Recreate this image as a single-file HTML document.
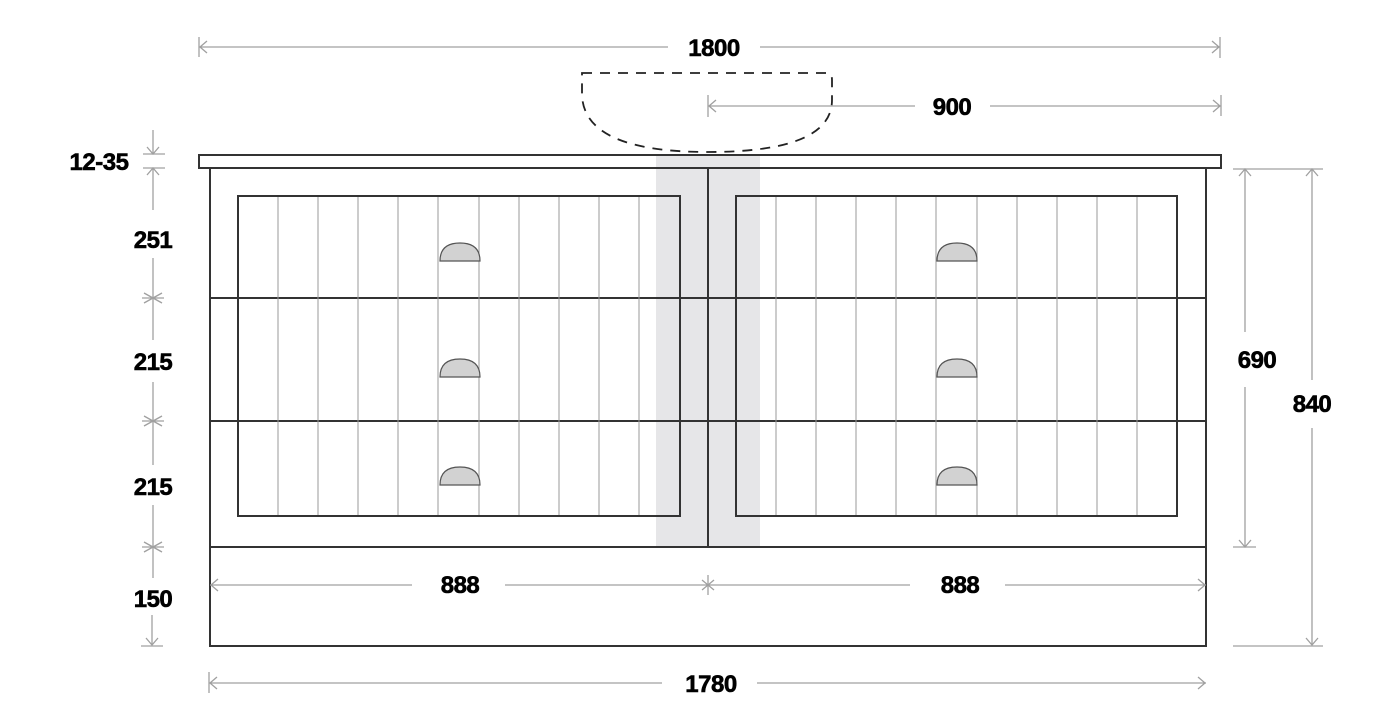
<!DOCTYPE html>
<html><head><meta charset="utf-8"><style>
html,body{margin:0;padding:0;background:#fff;width:1382px;height:706px;overflow:hidden}
svg{display:block}
text{font-family:"Liberation Sans",sans-serif;font-weight:900;font-size:24px;fill:#000;text-anchor:middle;stroke:#000;stroke-width:0.6;letter-spacing:-0.5px}
.d{stroke:#a0a0a0;stroke-width:1.3;fill:none}
.k{stroke:#333;stroke-width:2;fill:none}
.v{stroke:#999;stroke-width:1;}
</style></head><body>
<svg width="1382" height="706" viewBox="0 0 1382 706" xmlns="http://www.w3.org/2000/svg">
<rect x="656" y="154" width="104" height="393" fill="#e6e6e8"/>
<path d="M582 73 L827 73 Q832 73 832 80 L832 100 Q832 152 708 152 Q584 152 582 95 Z" fill="none" stroke="#222" stroke-width="1.8" stroke-dasharray="10,8"/>
<rect x="199" y="155" width="1022" height="13" fill="#fff" class="k"/>
<rect x="656" y="156" width="104" height="11" fill="#e6e6e8" opacity="0.6"/>
<rect x="210" y="168" width="996" height="478" class="k"/>
<line x1="210" y1="298" x2="1206" y2="298" class="k"/>
<line x1="210" y1="421" x2="1206" y2="421" class="k"/>
<line x1="210" y1="547" x2="1206" y2="547" class="k"/>
<line x1="708" y1="168" x2="708" y2="547" class="k"/>
<g class="v">
<line x1="278" y1="196" x2="278" y2="516"/><line x1="318" y1="196" x2="318" y2="516"/><line x1="358" y1="196" x2="358" y2="516"/><line x1="398" y1="196" x2="398" y2="516"/><line x1="438" y1="196" x2="438" y2="516"/><line x1="479" y1="196" x2="479" y2="516"/><line x1="519" y1="196" x2="519" y2="516"/><line x1="559" y1="196" x2="559" y2="516"/><line x1="599" y1="196" x2="599" y2="516"/><line x1="639" y1="196" x2="639" y2="516"/>
<line x1="776" y1="196" x2="776" y2="516"/><line x1="816" y1="196" x2="816" y2="516"/><line x1="856" y1="196" x2="856" y2="516"/><line x1="896" y1="196" x2="896" y2="516"/><line x1="936" y1="196" x2="936" y2="516"/><line x1="977" y1="196" x2="977" y2="516"/><line x1="1017" y1="196" x2="1017" y2="516"/><line x1="1057" y1="196" x2="1057" y2="516"/><line x1="1097" y1="196" x2="1097" y2="516"/><line x1="1137" y1="196" x2="1137" y2="516"/>
</g>
<rect x="238" y="196" width="442" height="320" class="k" stroke-width="1.8"/>
<rect x="736" y="196" width="441" height="320" class="k" stroke-width="1.8"/>
<g fill="#d2d2d2" stroke="#555" stroke-width="1.2">
<path d="M440 261 Q440 243 460 243 Q480 243 480 261 Z"/>
<path d="M440 377 Q440 359 460 359 Q480 359 480 377 Z"/>
<path d="M440 485 Q440 467 460 467 Q480 467 480 485 Z"/>
<path d="M937 261 Q937 243 957 243 Q977 243 977 261 Z"/>
<path d="M937 377 Q937 359 957 359 Q977 359 977 377 Z"/>
<path d="M937 485 Q937 467 957 467 Q977 467 977 485 Z"/>
</g>
<g class="d">
<line x1="199" y1="37" x2="199" y2="57"/><line x1="1220" y1="37" x2="1220" y2="58"/>
<line x1="199" y1="47" x2="668" y2="47"/><line x1="760" y1="47" x2="1220" y2="47"/>
<path d="M207 41 L200 47 L207 53"/><path d="M1212 41 L1219 47 L1212 53"/>
<line x1="708" y1="95" x2="708" y2="117"/><line x1="1221" y1="95" x2="1221" y2="116"/>
<line x1="708" y1="106" x2="915" y2="106"/><line x1="990" y1="106" x2="1221" y2="106"/>
<path d="M716 100 L709 106 L716 112"/><path d="M1213 100 L1220 106 L1213 112"/>
<line x1="153" y1="130" x2="153" y2="154"/><path d="M147 147 L153 154 L159 147"/>
<line x1="143" y1="154" x2="165" y2="154"/><line x1="143" y1="168" x2="165" y2="168"/>
<line x1="153" y1="168" x2="153" y2="210"/><path d="M147 175 L153 168 L159 175"/>
<line x1="153" y1="258" x2="153" y2="340"/>
<line x1="144" y1="293" x2="162" y2="303"/><line x1="144" y1="303" x2="162" y2="293"/><line x1="142" y1="298" x2="164" y2="298"/>
<line x1="153" y1="382" x2="153" y2="465"/>
<line x1="144" y1="416" x2="162" y2="426"/><line x1="144" y1="426" x2="162" y2="416"/><line x1="142" y1="421" x2="164" y2="421"/>
<line x1="153" y1="505" x2="153" y2="578"/>
<line x1="144" y1="542" x2="162" y2="552"/><line x1="144" y1="552" x2="162" y2="542"/><line x1="142" y1="547" x2="164" y2="547"/>
<line x1="152" y1="615" x2="152" y2="645"/><path d="M146 638 L152 645 L158 638"/>
<line x1="141" y1="646" x2="163" y2="646"/>
<line x1="210" y1="585" x2="412" y2="585"/><line x1="505" y1="585" x2="910" y2="585"/><line x1="1005" y1="585" x2="1206" y2="585"/>
<path d="M218 579 L211 585 L218 591"/><path d="M1198 579 L1205 585 L1198 591"/>
<line x1="702" y1="580" x2="714" y2="590"/><line x1="702" y1="590" x2="714" y2="580"/><line x1="708" y1="575" x2="708" y2="595"/>
<line x1="209" y1="672" x2="209" y2="693"/>
<line x1="209" y1="683" x2="662" y2="683"/><line x1="757" y1="683" x2="1206" y2="683"/>
<path d="M217 677 L210 683 L217 689"/><path d="M1198 677 L1205 683 L1198 689"/>
<line x1="1233" y1="169" x2="1323" y2="169"/>
<line x1="1245" y1="169" x2="1245" y2="332"/><line x1="1245" y1="387" x2="1245" y2="547"/>
<path d="M1239 176 L1245 169 L1251 176"/><path d="M1239 540 L1245 547 L1251 540"/>
<line x1="1233" y1="547" x2="1256" y2="547"/>
<line x1="1312" y1="169" x2="1312" y2="380"/><line x1="1312" y1="428" x2="1312" y2="645"/>
<path d="M1306 176 L1312 169 L1318 176"/><path d="M1306 638 L1312 645 L1318 638"/>
<line x1="1233" y1="646" x2="1323" y2="646"/>
</g>
<text x="714" y="56">1800</text>
<text x="952" y="115">900</text>
<text x="99" y="170">12-35</text>
<text x="153" y="248">251</text>
<text x="153" y="370">215</text>
<text x="153" y="495">215</text>
<text x="153" y="607">150</text>
<text x="460" y="593">888</text>
<text x="960" y="593">888</text>
<text x="711" y="692">1780</text>
<text x="1257" y="368">690</text>
<text x="1312" y="412">840</text>
</svg>
</body></html>
